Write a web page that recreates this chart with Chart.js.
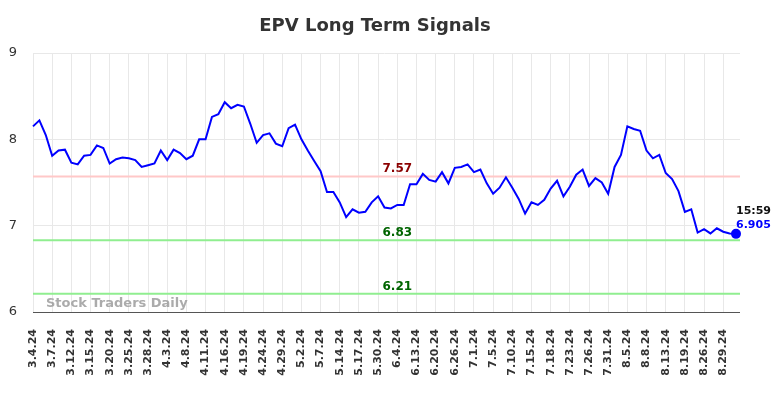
<!DOCTYPE html>
<html>
<head>
<meta charset="utf-8">
<script src="https://cdn.jsdelivr.net/npm/chart.js@4"></script>
<style>
html,body{margin:0;padding:0;background:#fff;}
#wrap{width:784px;height:398px;}
</style>
</head>
<body>
<div id="wrap"><canvas id="c" width="784" height="398"></canvas></div>
<script>
const title = "EPV Long Term Signals";
const tickLabels = ["3.4.24","3.7.24","3.12.24","3.15.24","3.20.24","3.25.24","3.28.24","4.3.24","4.8.24","4.11.24","4.16.24","4.19.24","4.24.24","4.29.24","5.2.24","5.7.24","5.14.24","5.17.24","5.30.24","6.4.24","6.13.24","6.20.24","6.26.24","7.1.24","7.5.24","7.10.24","7.15.24","7.18.24","7.23.24","7.26.24","7.31.24","8.5.24","8.8.24","8.13.24","8.19.24","8.26.24","8.29.24"];
const prices = [8.15,8.22,8.05,7.81,7.87,7.88,7.73,7.71,7.81,7.82,7.93,7.90,7.72,7.77,7.79,7.78,7.76,7.68,7.70,7.72,
7.87,7.76,7.88,7.84,7.77,7.81,8.00,8.00,8.26,8.29,8.43,8.36,8.40,8.38,8.18,7.96,8.05,8.07,7.95,7.92,
8.13,8.17,8.00,7.87,7.75,7.63,7.39,7.39,7.27,7.10,7.19,7.15,7.16,7.27,7.34,7.21,7.20,7.24,7.24,7.48,
7.48,7.60,7.53,7.51,7.62,7.49,7.67,7.68,7.71,7.62,7.65,7.49,7.37,7.44,7.56,7.44,7.31,7.14,7.27,7.24,
7.30,7.43,7.52,7.34,7.45,7.59,7.65,7.46,7.55,7.50,7.37,7.68,7.82,8.15,8.12,8.10,7.87,7.78,7.82,7.61,
7.54,7.40,7.16,7.19,6.92,6.96,6.91,6.97,6.93,6.91,6.905];
const levelValues = [7.57, 6.83, 6.21];
const levelLineColors = ["#ffc8c8", "#90ee90", "#90ee90"];
const levelTextColors = ["#8b0000", "#006400", "#006400"];
const lastTime = "15:59";
const lastValue = "6.905";
const yTicks = [6, 7, 8, 9];

const labels = prices.map((v, i) => (i % 3 === 0 && tickLabels[i / 3] !== undefined) ? tickLabels[i / 3] : "");
const FONT = "'DejaVu Sans', sans-serif";

const overlay = {
  id: 'overlay',
  beforeDatasetsDraw(chart) {
    const {ctx, chartArea, scales} = chart;
    ctx.save();
    ctx.strokeStyle = '#e8e8e8';
    ctx.lineWidth = 1;
    yTicks.slice(1).forEach(v => {
      const y = Math.round(scales.y.getPixelForValue(v)) + 0.5;
      ctx.beginPath();
      ctx.moveTo(chartArea.right, y);
      ctx.lineTo(chartArea.right + 4, y);
      ctx.stroke();
    });
    levelValues.forEach((v, i) => {
      const y = scales.y.getPixelForValue(v);
      ctx.strokeStyle = levelLineColors[i];
      ctx.lineWidth = 2;
      ctx.beginPath();
      ctx.moveTo(chartArea.left, y);
      ctx.lineTo(chartArea.right + 4, y);
      ctx.stroke();
    });
    ctx.font = "bold 13px " + FONT;
    ctx.fillStyle = "rgba(150,150,150,0.8)";
    ctx.textAlign = "left";
    ctx.textBaseline = "alphabetic";
    ctx.fillText("Stock Traders Daily", chartArea.left + 13, chartArea.bottom - 5);
    ctx.restore();
  },
  afterDatasetsDraw(chart) {
    const {ctx, chartArea, scales} = chart;
    ctx.save();
    ctx.strokeStyle = '#555';
    ctx.lineWidth = 1;
    const yb = Math.round(chartArea.bottom) + 0.5;
    ctx.beginPath();
    ctx.moveTo(chartArea.right, yb);
    ctx.lineTo(chartArea.right + 4, yb);
    ctx.stroke();
    ctx.font = "bold 12px " + FONT;
    ctx.textAlign = "center";
    ctx.textBaseline = "alphabetic";
    const xMid = scales.x.getPixelForValue(57);
    levelValues.forEach((v, i) => {
      const y = scales.y.getPixelForValue(v);
      ctx.fillStyle = levelTextColors[i];
      ctx.fillText(v.toFixed(2), xMid, y - 4);
    });
    const li = prices.length - 1;
    const lx = scales.x.getPixelForValue(li);
    const ly = scales.y.getPixelForValue(prices[li]);
    ctx.font = "bold 11px " + FONT;
    ctx.textAlign = "left";
    ctx.fillStyle = "#111";
    ctx.fillText(lastTime, lx, ly - 20);
    ctx.fillStyle = "#0000ff";
    ctx.fillText(lastValue, lx, ly - 6);
    ctx.font = "bold 18px " + FONT;
    ctx.fillStyle = "#333";
    ctx.textAlign = "center";
    ctx.textBaseline = "middle";
    ctx.fillText(title, 375, 26);
    ctx.restore();
  }
};

new Chart(document.getElementById('c'), {
  type: 'line',
  data: {
    labels: labels,
    datasets: [{
      data: prices,
      borderColor: '#0000ff',
      backgroundColor: '#0000ff',
      borderWidth: 2,
      tension: 0,
      fill: false,
      pointRadius: prices.map((v, i) => i === prices.length - 1 ? 4 : 0),
      pointHoverRadius: 0
    }]
  },
  options: {
    responsive: false,
    animation: false,
    events: [],
    layout: {padding: {top: 53, right: 48, left: 0, bottom: 0}},
    plugins: {legend: {display: false}, title: {display: false}, tooltip: {enabled: false}},
    scales: {
      x: {
        type: 'category',
        offset: false,
        border: {display: true, color: '#555', width: 1},
        grid: {
          drawTicks: false,
          color: (c) => (labels[c.index] ? '#e8e8e8' : 'rgba(0,0,0,0)'),
          lineWidth: 1
        },
        ticks: {
          autoSkip: false,
          maxRotation: 90,
          minRotation: 90,
          padding: 17,
          color: '#333',
          font: {family: FONT, size: 11, weight: 'bold'},
          callback: function(val, idx) { return labels[idx]; }
        },
        afterFit: (s) => { s.height = 86; }
      },
      y: {
        min: 6,
        max: 9,
        border: {display: false},
        grid: {drawTicks: false, color: '#e8e8e8', lineWidth: 1},
        afterBuildTicks: (s) => { s.ticks = yTicks.map(v => ({value: v})); },
        ticks: {
          padding: 16,
          color: '#333',
          font: {family: FONT, size: 13}
        },
        afterFit: (s) => { s.width = 33; }
      }
    }
  },
  plugins: [overlay]
});
</script>
</body>
</html>
